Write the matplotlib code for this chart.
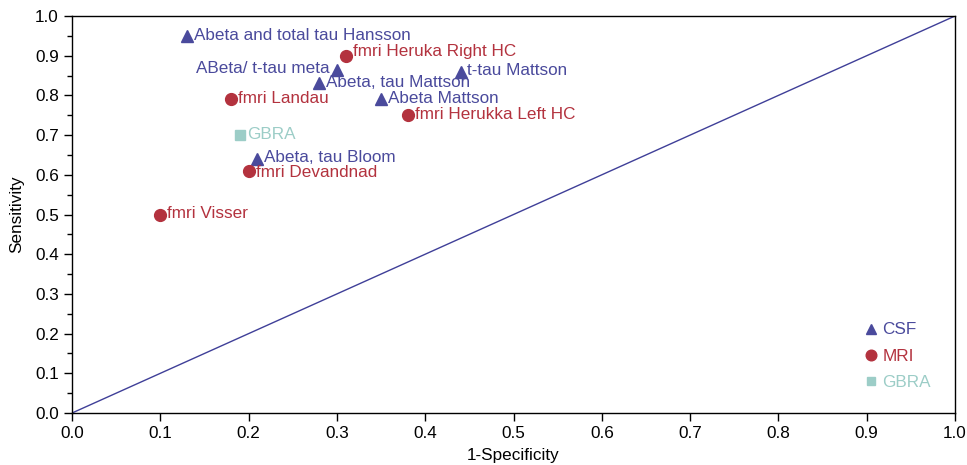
import matplotlib.pyplot as plt
import numpy as np
from matplotlib.ticker import MultipleLocator

plt.rcParams['font.family'] = ['Liberation Sans', 'DejaVu Sans']

# data: (1-specificity, sensitivity)
csf_names = ['Abeta and total tau Hansson', 'ABeta/ t-tau meta', 'Abeta, tau Mattson',
             't-tau Mattson', 'Abeta Mattson', 'Abeta, tau Bloom']
csf_x = [0.13, 0.30, 0.28, 0.44, 0.35, 0.21]
csf_y = [0.95, 0.865, 0.83, 0.86, 0.79, 0.64]

mri_names = ['fmri Heruka Right HC', 'fmri Landau', 'fmri Herukka Left HC',
             'fmri Devandnad', 'fmri Visser']
mri_x = [0.31, 0.18, 0.38, 0.20, 0.10]
mri_y = [0.90, 0.79, 0.75, 0.61, 0.50]

gbra_names = ['GBRA']
gbra_x = [0.19]
gbra_y = [0.70]

c_csf = '#4a4a9c'
c_mri = '#b3323e'
c_gbra = '#9ccdc7'

fs = 12.3

fig = plt.figure(figsize=(9.67, 4.65), dpi=100)
ax = fig.add_axes([0.0745, 0.1118, 0.9131, 0.8538])

# reference line
ax.plot([0, 1], [0, 1], color='#3f3f98', lw=1.0, zorder=1)

ax.plot(csf_x, csf_y, '^', color=c_csf, ms=8, ls='none', label='CSF', zorder=3)
ax.plot(mri_x, mri_y, 'o', color=c_mri, ms=8.5, ls='none', label='MRI', zorder=3)
ax.plot(gbra_x, gbra_y, 's', color=c_gbra, ms=7, ls='none', label='GBRA', zorder=3)

# small vertical nudges so labels sit like the original
nudge = {'fmri Heruka Right HC': 3, 'fmri Devandnad': -1, 'Abeta, tau Bloom': 1}

def put_labels(names, xs, ys, col):
    for n, x, y in zip(names, xs, ys):
        if n == 'ABeta/ t-tau meta':
            ax.annotate(n, (x, y), xytext=(-5, 1), textcoords='offset points',
                        ha='right', va='center', color=col, fontsize=fs)
        else:
            dy = nudge.get(n, 0.5)
            ax.annotate(n, (x, y), xytext=(5, dy), textcoords='offset points',
                        ha='left', va='center', color=col, fontsize=fs)

put_labels(csf_names, csf_x, csf_y, c_csf)
put_labels(mri_names, mri_x, mri_y, c_mri)
put_labels(gbra_names, gbra_x, gbra_y, c_gbra)

leg = ax.legend(loc='lower right', bbox_to_anchor=(0.99, 0.02), frameon=False,
                fontsize=fs, handletextpad=0.05, labelspacing=0.65,
                handlelength=1.2, markerscale=0.9, labelcolor='markerfacecolor')

ax.set_xlim(0, 1)
ax.set_ylim(0, 1)
ax.xaxis.set_major_locator(MultipleLocator(0.1))
ax.yaxis.set_major_locator(MultipleLocator(0.1))
ax.yaxis.set_minor_locator(MultipleLocator(0.05))
ax.tick_params(direction='out', length=6, width=1, labelsize=fs)
ax.tick_params(which='minor', direction='out', length=3.5, width=1)
ax.xaxis.set_major_formatter(plt.FuncFormatter(lambda v, p: '%.1f' % v))
ax.yaxis.set_major_formatter(plt.FuncFormatter(lambda v, p: '%.1f' % v))
for s in ax.spines.values():
    s.set_linewidth(1.0)

ax.set_xlabel('1-Specificity', fontsize=fs, labelpad=5)
ax.set_ylabel('Sensitivity', fontsize=fs, labelpad=8)

fig.savefig('out.png', dpi=100)
